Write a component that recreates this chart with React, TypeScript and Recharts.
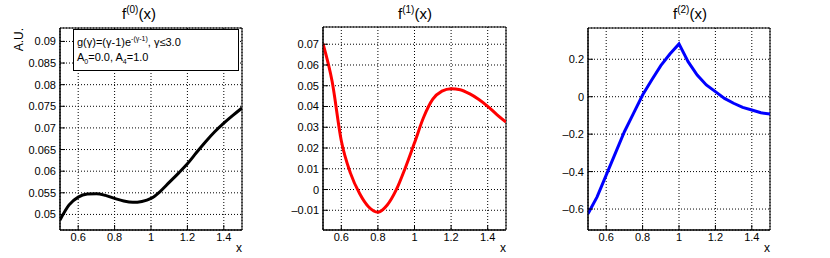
import { CartesianGrid, Line, LineChart, ReferenceArea, XAxis, YAxis } from "recharts";

const xValues = [0.5, 0.55, 0.6, 0.65, 0.7, 0.75, 0.8, 0.85, 0.9, 0.95, 1.0, 1.05, 1.1, 1.15, 1.2, 1.25, 1.3, 1.35, 1.4, 1.45, 1.5];

const f0Values = [0.0487, 0.0522, 0.054, 0.0547, 0.0548, 0.0544, 0.0537, 0.0531, 0.0528, 0.053, 0.0537, 0.0553, 0.0574, 0.0595, 0.0617, 0.0643, 0.0668, 0.0691, 0.0711, 0.0729, 0.0746];
const f1Values = [0.0703, 0.052, 0.0235, 0.0079, -0.0019, -0.0084, -0.0109, -0.0076, -0.0002, 0.0105, 0.0225, 0.0348, 0.0435, 0.0474, 0.0486, 0.0481, 0.0462, 0.0435, 0.0401, 0.0361, 0.0325];
const f2Values = [-0.625, -0.535, -0.419, -0.303, -0.187, -0.089, 0.009, 0.089, 0.166, 0.228, 0.282, 0.187, 0.116, 0.063, 0.027, -0.009, -0.035, -0.057, -0.071, -0.086, -0.093];

const xTicks = [0.6, 0.8, 1, 1.2, 1.4];
const f0Ticks = [0.05, 0.055, 0.06, 0.065, 0.07, 0.075, 0.08, 0.085, 0.09];
const f1Ticks = [-0.01, 0, 0.01, 0.02, 0.03, 0.04, 0.05, 0.06, 0.07];
const f2Ticks = [-0.6, -0.4, -0.2, 0, 0.2];

const font = "'Liberation Sans', Arial, sans-serif";

const fmt = (v: number) => (v < 0 ? "\u2013" + String(-v) : String(v));

function XTick(props: any) {
  const { x, y, payload } = props;
  return (
    <g>
      <line x1={x} x2={x} y1={y - 3} y2={y - 8} stroke="#000" />
      <text x={x} y={y + 8} textAnchor="middle" fontSize={11} fontFamily={font} fill="#000">
        {fmt(payload.value)}
      </text>
    </g>
  );
}

function YTick(props: any) {
  const { x, y, payload } = props;
  return (
    <g>
      <line x1={x + 4} x2={x + 9} y1={y} y2={y} stroke="#000" />
      <text x={x} y={y + 4} textAnchor="end" fontSize={11} fontFamily={font} fill="#000">
        {fmt(payload.value)}
      </text>
    </g>
  );
}

type PanelProps = {
  left: number;
  width: number;
  top: number;
  yWidth: number;
  right: number;
  values: number[];
  color: string;
  domain: [number, number];
  ticks: number[];
  curve: "monotone" | "linear";
};

function Panel({ left, width, top, yWidth, right, values, color, domain, ticks, curve }: PanelProps) {
  const data = xValues.map((x, i) => ({ x, y: values[i] }));
  return (
    <div style={{ position: "absolute", left, top: 0 }}>
      <LineChart width={width} height={258} data={data} margin={{ top, right, bottom: 0, left: 0 }}>
        <CartesianGrid stroke="#000" strokeDasharray="1 2" />
        <XAxis
          dataKey="x"
          type="number"
          domain={[0.5, 1.5]}
          ticks={xTicks}
          interval={0}
          allowDataOverflow
          height={28}
          tickSize={0}
          tickMargin={3}
          tickLine={false}
          axisLine={{ stroke: "#000" }}
          tick={<XTick />}
        />
        <YAxis
          type="number"
          domain={domain}
          ticks={ticks}
          interval={0}
          allowDataOverflow
          width={yWidth}
          tickSize={0}
          tickMargin={4}
          tickLine={false}
          axisLine={{ stroke: "#000" }}
          tick={<YTick />}
        />
        <Line
          dataKey="y"
          type={curve}
          stroke={color}
          strokeWidth={3}
          dot={false}
          isAnimationActive={false}
        />
        <ReferenceArea x1={0.5} x2={1.5} y1={domain[0]} y2={domain[1]} fill="none" stroke="#000" strokeOpacity={1} fillOpacity={0} />
      </LineChart>
    </div>
  );
}

function Title({ cx, n }: { cx: number; n: number }) {
  return (
    <text x={cx} y={19} textAnchor="middle" fontSize={15} fontFamily={font} fill="#000">
      <tspan>f</tspan>
      <tspan dy={-6} fontSize={10}>({n})</tspan>
      <tspan dy={6}>(x)</tspan>
    </text>
  );
}

export default function App() {
  return (
    <div style={{ position: "absolute", left: 0, top: 0, width: 830, height: 258, background: "#fff" }}>
      <Panel left={0} width={276} top={28} yWidth={60} right={34} values={f0Values} color="#000" domain={[0.0464, 0.0931]} ticks={f0Ticks} curve="monotone" />
      <Panel left={276} width={277} top={27} yWidth={47} right={47} values={f1Values} color="#ff0000" domain={[-0.0195, 0.0783]} ticks={f1Ticks} curve="monotone" />
      <Panel left={553} width={277} top={28} yWidth={35} right={60} values={f2Values} color="#0000ff" domain={[-0.712, 0.367]} ticks={f2Ticks} curve="linear" />
      <svg width={830} height={258} style={{ position: "absolute", left: 0, top: 0, pointerEvents: "none" }}>
        <Title cx={139} n={0} />
        <Title cx={415} n={1} />
        <Title cx={690} n={2} />
        <text transform="translate(23,28) rotate(-90)" textAnchor="end" fontSize={12} fontFamily={font} fill="#000">A.U.</text>
        <text x={242} y={252} textAnchor="end" fontSize={12} fontFamily={font} fill="#000">x</text>
        <text x={506} y={252} textAnchor="end" fontSize={12} fontFamily={font} fill="#000">x</text>
        <text x={770} y={252} textAnchor="end" fontSize={12} fontFamily={font} fill="#000">x</text>
        <rect x={73.5} y={29.5} width={165} height={41} fill="#fff" stroke="#000" />
        <text x={77} y={46} fontSize={11} fontFamily={font} fill="#000">
          <tspan>g(γ)=(γ-1)e</tspan>
          <tspan dy={-5} fontSize={7}>-(γ-1)</tspan>
          <tspan dy={5}>, γ≤3.0</tspan>
        </text>
        <text x={77} y={61} fontSize={11} fontFamily={font} fill="#000">
          <tspan>A</tspan>
          <tspan dy={3} fontSize={7}>0</tspan>
          <tspan dy={-3}>=0.0, A</tspan>
          <tspan dy={3} fontSize={7}>4</tspan>
          <tspan dy={-3}>=1.0</tspan>
        </text>
      </svg>
    </div>
  );
}
